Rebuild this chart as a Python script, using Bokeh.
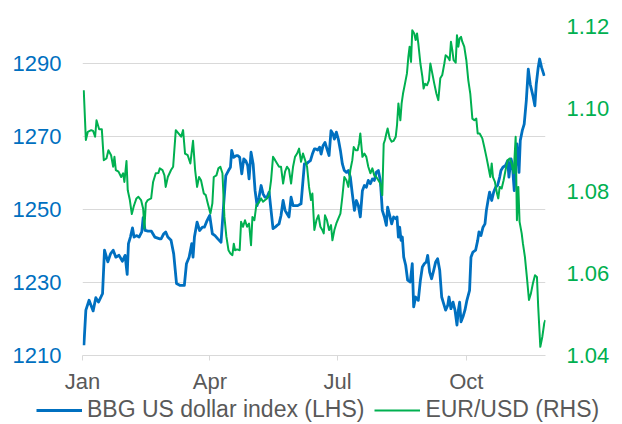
import pandas as pd
from bokeh.plotting import figure
from bokeh.layouts import column
from bokeh.models import (Range1d, LinearAxis, FixedTicker, PrintfTickFormatter,
                          Legend, LegendItem, ColumnDataSource, DatetimeTickFormatter)
from bokeh.embed import file_html
from bokeh.resources import INLINE

# ---------------- data ----------------
BASE = "2024-01-01"
month_ticks = ["2024-01-01", "2024-04-01", "2024-07-01", "2024-10-01"]
month_labels = ["Jan", "Apr", "Jul", "Oct"]
usd_ticks = [1210, 1230, 1250, 1270, 1290]
eur_ticks = [1.04, 1.06, 1.08, 1.10, 1.12]
series_names = ["BBG US dollar index (LHS)", "EUR/USD (RHS)"]

# BBG US dollar index (LHS): days since 1 Jan 2024, value
usd_day = [1.0, 2.4, 4.7, 7.6, 9.5, 11.4, 14.3, 15.7, 18.1, 20.0, 21.9, 23.8, 26.1, 28.5, 30.4,
           31.9, 32.8, 34.2, 35.7, 36.8, 38.5, 40.4, 42.3, 43.3, 44.7, 46.8, 49.2, 51.6, 55.2,
           56.1, 58.0, 59.4, 60.9, 63.2, 65.1, 67.1, 69.4, 71.3, 72.7, 74.2, 76.1, 78.0, 78.9,
           79.9, 81.8, 83.6, 85.6, 87.0, 88.9, 90.8, 92.7, 94.6, 96.6, 98.9, 100.8, 102.3, 104.2,
           105.6, 106.5, 107.9, 109.8,
           110.8, 112.2, 113.7, 115.1, 116.5, 117.9, 118.9, 120.3, 121.8, 123.2, 124.6, 126.0,
           127.5, 128.9, 130.3, 131.7, 133.2, 134.6, 136.0, 137.5, 138.9, 140.3, 141.7, 143.2,
           144.6, 146.0, 147.4, 148.9, 150.3, 151.7, 153.6, 156.0, 157.4, 158.4, 159.8, 161.2,
           162.7, 164.1, 165.5,
           166.5, 167.9, 169.3, 170.3, 171.7, 173.1, 174.5, 176.0, 177.4, 178.8, 179.8, 181.2,
           182.6, 184.1, 185.5, 186.9, 188.4, 189.8, 191.2, 192.6, 194.1, 195.5, 196.9, 198.3,
           199.8, 201.2, 202.6, 204.0, 205.5, 206.9, 208.3, 209.7, 211.2, 212.6, 214.0, 215.5,
           216.9, 217.8, 219.3, 220.7, 222.1,
           223.6, 224.5, 225.5, 226.4, 227.4, 228.3, 229.3, 230.7, 232.1, 234.0, 235.4, 236.4,
           237.8, 239.7, 241.2, 242.6, 244.0, 245.4, 246.4, 247.8, 249.2, 250.7, 252.1, 253.5,
           255.0, 256.4, 257.8, 259.2, 260.7, 261.6, 263.0, 264.5, 265.9, 267.3, 268.3, 269.2,
           270.2, 271.6, 273.0, 274.4,
           276.3, 277.3, 278.7, 280.6, 282.1, 283.0, 284.4, 285.9, 287.3, 288.3, 289.7, 290.6,
           292.1, 293.5, 294.9, 296.3, 297.8, 298.7, 300.1, 302.0, 303.5, 304.4, 305.9, 306.8,
           308.2, 309.2, 310.1, 311.6, 312.5, 313.9, 315.3, 316.8, 318.2, 319.6, 321.5, 322.9,
           323.9, 325.3, 326.3, 327.7, 329.6]
usd_val = [1212.8, 1222.4, 1225.1, 1222.2, 1225.8, 1224.6, 1226.9, 1238.8, 1235.6, 1237.8, 1238.8,
           1236.9, 1237.4, 1235.8, 1237.4, 1232.2, 1240.6, 1242.4, 1244.9, 1242.4, 1242.8, 1242.4,
           1243.8, 1247.7, 1244.2, 1244.0, 1244.0, 1242.4, 1241.9,
           1241.9, 1243.3, 1243.8, 1242.4, 1241.5, 1237.8, 1229.7, 1229.2, 1229.2, 1229.2, 1235.1,
           1236.9, 1240.6, 1236.9, 1242.4, 1246.5, 1244.2, 1245.1, 1245.1, 1246.9, 1248.3, 1243.3,
           1242.8, 1241.9, 1241.0, 1251.5, 1259.2, 1260.6, 1261.5, 1266.1, 1264.2, 1264.7,
           1264.7, 1264.2, 1259.7, 1263.8, 1263.3, 1262.0, 1258.3, 1265.6, 1262.4, 1255.1, 1251.0,
           1253.3, 1256.5, 1254.2, 1253.3, 1253.3, 1254.7, 1249.7, 1244.7, 1245.1, 1245.6, 1246.0,
           1248.3, 1252.4, 1249.7, 1248.8, 1247.9, 1253.3, 1251.0, 1251.0, 1251.0, 1251.5, 1257.9,
           1262.4, 1262.4, 1262.9, 1263.3, 1265.1, 1266.5,
           1266.5, 1266.2, 1267.0, 1265.1, 1267.4, 1268.3, 1266.5, 1264.7, 1271.5, 1270.6, 1269.2,
           1271.1, 1269.2, 1266.1, 1262.4, 1260.6, 1260.1, 1260.6, 1258.8, 1254.2, 1249.7, 1252.4,
           1251.0, 1247.9, 1255.1, 1256.5, 1256.0, 1257.9, 1257.0, 1258.3, 1257.9, 1260.1, 1260.6,
           1257.9, 1249.7, 1247.9, 1245.6, 1250.6, 1248.3, 1246.0, 1247.9,
           1247.4, 1247.9, 1242.4, 1245.1, 1241.5, 1242.4, 1236.9, 1234.7, 1230.6, 1230.1, 1235.1,
           1223.3, 1226.0, 1225.1, 1230.6, 1234.2, 1235.1, 1235.6, 1237.4, 1232.8, 1231.0, 1233.3,
           1235.6, 1236.5, 1233.3, 1226.0, 1224.2, 1222.4, 1223.7, 1226.0, 1222.8, 1224.6, 1222.4,
           1218.3, 1222.4, 1224.6, 1219.2, 1220.6, 1222.4, 1225.1,
           1227.8, 1236.9, 1238.3, 1238.8, 1241.5, 1243.8, 1242.8, 1245.1, 1246.0, 1249.7, 1252.9,
           1254.7, 1252.4, 1254.7, 1256.0, 1256.5, 1258.8, 1260.6, 1261.5, 1262.0, 1263.3, 1258.8,
           1263.8, 1262.4, 1255.1, 1262.0, 1267.9, 1260.1, 1268.8, 1271.5, 1273.3, 1279.7, 1288.3,
           1284.2, 1281.1, 1278.3, 1284.2, 1288.8, 1291.1, 1288.8, 1286.5]

# EUR/USD (RHS): days since 1 Jan 2024, value
eur_day = [0.9, 2.4, 3.8, 6.2, 7.6, 9.0, 10.0, 11.9, 13.8, 15.2, 17.1, 18.5, 20.4, 21.9, 22.8,
           23.8, 25.7, 27.6, 29.0, 29.9, 31.4, 32.3, 33.8, 35.2, 36.6, 38.5, 39.9, 41.8, 43.3,
           44.2, 45.2, 46.6, 49.0, 50.4, 52.3, 54.2, 55.2,
           57.1, 58.5, 59.4, 60.9, 63.2, 64.7, 66.6, 68.5, 70.4, 71.8, 73.2, 75.1, 77.0, 78.9,
           80.4, 81.8, 83.2, 84.6, 86.6, 88.0, 89.4, 91.3, 92.7, 93.7, 95.6, 97.0, 98.4, 99.9,
           101.3, 102.7, 104.2, 105.6, 107.0, 108.0, 108.9, 110.3,
           112.2, 113.2, 114.6, 116.0, 117.5, 118.9, 120.3, 121.3, 122.7, 124.1, 125.6, 127.5,
           128.9, 130.3, 131.7, 133.2, 134.6, 136.0, 137.5, 138.9, 140.3, 141.7, 143.2, 144.6,
           146.0, 147.4, 148.9, 150.3, 151.7, 153.2, 154.6, 156.0, 157.4, 158.9, 160.3, 161.7,
           163.1, 164.1, 165.5,
           167.0, 168.4, 169.8, 171.2, 172.2, 173.1, 174.5, 176.0, 177.4, 178.4, 179.8, 181.2,
           182.6, 184.1, 185.5, 186.9, 188.4, 189.8, 191.2, 192.6, 193.6, 195.0, 196.4, 197.4,
           198.3, 199.8, 201.2, 202.6, 204.0, 205.5, 206.9, 208.3, 209.7, 211.2, 212.6, 214.0,
           215.0, 215.9, 216.9, 217.8, 219.3, 220.7, 222.1,
           223.6, 224.5, 225.5, 226.9, 227.8, 228.8, 230.2, 231.6, 232.6, 233.5, 234.5, 235.4,
           236.8, 237.8, 238.8, 239.7, 241.2, 242.6, 243.5, 244.5, 245.9, 247.3, 248.3, 249.7,
           251.1, 252.6, 254.0, 255.4, 256.8, 258.3, 259.2, 260.7, 262.1, 263.0, 264.0, 264.9,
           266.4, 267.3, 268.3, 269.2, 270.2, 271.1, 272.5, 274.0, 275.4, 276.8,
           278.3, 279.7, 281.1, 282.1, 283.5, 285.4, 286.8, 288.3, 289.7, 291.1, 292.1, 293.0,
           294.4, 295.9, 296.8, 297.8, 299.2, 300.6, 302.0, 303.5, 304.9, 306.3, 307.8, 309.2,
           310.1, 311.1, 312.0, 313.5, 314.4, 315.8, 317.2, 318.7, 320.1, 321.5, 323.0, 324.4,
           325.3, 326.8, 328.2, 329.6, 330.4]
eur_val = [1.1045, 1.0924, 1.0944, 1.0948, 1.0946, 1.0932, 1.0972, 1.0950, 1.0950, 1.0875, 1.0879,
           1.0899, 1.0887, 1.0859, 1.0883, 1.0851, 1.0847, 1.0834, 1.0843, 1.0822, 1.0873, 1.0802,
           1.0778, 1.0744, 1.0763, 1.0782, 1.0786, 1.0778, 1.0757, 1.0709, 1.0770, 1.0778, 1.0782,
           1.0822, 1.0843, 1.0844, 1.0855,
           1.0851, 1.0838, 1.0810, 1.0834, 1.0851, 1.0859, 1.0948, 1.0940, 1.0932, 1.0948, 1.0891,
           1.0887, 1.0867, 1.0922, 1.0851, 1.0810, 1.0834, 1.0826, 1.0794, 1.0790, 1.0770, 1.0745,
           1.0770, 1.0834, 1.0838, 1.0855, 1.0859, 1.0843, 1.0737, 1.0689, 1.0656, 1.0648, 1.0644,
           1.0672, 1.0656, 1.0658,
           1.0656, 1.0725, 1.0713, 1.0729, 1.0713, 1.0721, 1.0668, 1.0737, 1.0729, 1.0766, 1.0770,
           1.0782, 1.0774, 1.0778, 1.0782, 1.0790, 1.0826, 1.0883, 1.0875, 1.0867, 1.0859, 1.0859,
           1.0818, 1.0847, 1.0859, 1.0852, 1.0818, 1.0859, 1.0883, 1.0891, 1.0903, 1.0871, 1.0891,
           1.0875, 1.0859, 1.0810, 1.0778, 1.0794, 1.0705,
           1.0729, 1.0741, 1.0713, 1.0705, 1.0697, 1.0741, 1.0729, 1.0705, 1.0717, 1.0680, 1.0705,
           1.0721, 1.0733, 1.0745, 1.0786, 1.0834, 1.0826, 1.0810, 1.0851, 1.0875, 1.0907, 1.0899,
           1.0899, 1.0915, 1.0940, 1.0883, 1.0891, 1.0883, 1.0859, 1.0843, 1.0855, 1.0838, 1.0834,
           1.0826, 1.0818, 1.0790, 1.0915, 1.0924, 1.0940, 1.0952, 1.0928, 1.0920, 1.0922,
           1.0932, 1.0960, 1.1013, 1.0972, 1.1013, 1.1037, 1.1061, 1.1086, 1.1126, 1.1151, 1.1114,
           1.1191, 1.1183, 1.1167, 1.1183, 1.1159, 1.1110, 1.1078, 1.1049, 1.1061, 1.1057, 1.1069,
           1.1110, 1.1086, 1.1061, 1.1037, 1.1021, 1.1074, 1.1082, 1.1110, 1.1130, 1.1126, 1.1118,
           1.1163, 1.1142, 1.1118, 1.1112, 1.1179, 1.1151, 1.1171, 1.1175, 1.1163, 1.1151, 1.1118,
           1.1069, 1.1037,
           1.0976, 1.0972, 1.0976, 1.0940, 1.0940, 1.0928, 1.0907, 1.0883, 1.0859, 1.0834, 1.0867,
           1.0834, 1.0822, 1.0794, 1.0782, 1.0810, 1.0806, 1.0826, 1.0851, 1.0875, 1.0879, 1.0867,
           1.0843, 1.0932, 1.0729, 1.0810, 1.0725, 1.0697, 1.0672, 1.0640, 1.0591, 1.0535, 1.0551,
           1.0575, 1.0595, 1.0591, 1.0518, 1.0421, 1.0445, 1.0478, 1.0486]

# ---------------- styling ----------------
BLUE = "#0070C0"
GREEN = "#00B050"
GREY = "#595959"
GRID = "#D9D9D9"
FONT = "Liberation Sans"
USD_W = 2.8
EUR_W = 2

base = pd.Timestamp(BASE)
usd_x = base + pd.to_timedelta(usd_day, unit="D")
eur_x = base + pd.to_timedelta(eur_day, unit="D")

# ---------------- main chart ----------------
p = figure(width=614, height=396, output_backend="svg", toolbar_location=None,
           x_axis_type="datetime",
           x_range=Range1d(base, pd.Timestamp("2024-11-26 12:00")),
           y_range=Range1d(1210, 1300),
           min_border_left=82, min_border_right=69, min_border_top=26, min_border_bottom=40)
p.outline_line_color = None
p.background_fill_color = "white"
p.border_fill_color = "white"
p.frame_align = False

p.extra_y_ranges = {"eur": Range1d(1.04, 1.12)}

tick_ms = [pd.Timestamp(t).value // 10**6 for t in month_ticks]
xa = p.xaxis[0]
xa.ticker = FixedTicker(ticks=tick_ms)
xa.formatter = DatetimeTickFormatter(days="%b", months="%b", years="%b")
xa.major_label_overrides = {t: lab for t, lab in zip(tick_ms, month_labels)}
xa.axis_line_color = GRID
xa.major_tick_line_color = GRID
xa.major_tick_out = 5
xa.major_tick_in = 0
xa.minor_tick_line_color = None
xa.major_label_standoff = 8
xa.major_label_text_font = FONT
xa.major_label_text_font_size = "22px"
xa.major_label_text_color = GREY

ya = p.yaxis[0]
ya.ticker = FixedTicker(ticks=usd_ticks)
ya.axis_line_color = None
ya.major_tick_line_color = None
ya.minor_tick_line_color = None
ya.major_tick_out = 0
ya.major_tick_in = 0
ya.major_label_standoff = 21
ya.major_label_text_font = FONT
ya.major_label_text_font_size = "22px"
ya.major_label_text_color = BLUE

ra = LinearAxis(y_range_name="eur", ticker=FixedTicker(ticks=eur_ticks),
                formatter=PrintfTickFormatter(format="%.2f"))
ra.axis_line_color = None
ra.major_tick_line_color = None
ra.minor_tick_line_color = None
ra.major_tick_out = 0
ra.major_tick_in = 0
ra.major_label_standoff = 21
ra.major_label_text_font = FONT
ra.major_label_text_font_size = "22px"
ra.major_label_text_color = GREEN
p.add_layout(ra, "right")

p.xgrid.grid_line_color = None
p.ygrid.ticker = FixedTicker(ticks=usd_ticks)
p.ygrid.grid_line_color = GRID
p.ygrid.grid_line_width = 1

src_usd = ColumnDataSource(dict(x=usd_x, y=usd_val))
src_eur = ColumnDataSource(dict(x=eur_x, y=eur_val))

p.line("x", "y", source=src_usd, line_color=BLUE, line_width=USD_W, line_join="round")
p.line("x", "y", source=src_eur, line_color=GREEN, line_width=EUR_W, line_join="round",
       y_range_name="eur")

# ---------------- legend strip (separate small figure) ----------------
lg = figure(width=614, height=27, output_backend="svg", toolbar_location=None,
            x_range=Range1d(0, 1), y_range=Range1d(0, 1),
            x_axis_location=None, y_axis_location=None,
            min_border_left=0, min_border_right=0, min_border_top=0, min_border_bottom=0)
lg.outline_line_color = None
lg.grid.visible = False
lg.background_fill_color = "white"
lg.border_fill_color = "white"
lg.frame_align = False
# the series are drawn here too (far outside this strip's view) only so the legend has samples
k_usd = lg.line(x=usd_day, y=usd_val, line_color=BLUE, line_width=USD_W)
k_eur = lg.line(x=eur_day, y=eur_val, line_color=GREEN, line_width=EUR_W)

legend = Legend(items=[LegendItem(label=series_names[0], renderers=[k_usd]),
                       LegendItem(label=series_names[1], renderers=[k_eur])],
                orientation="horizontal", location=(36, 0),
                glyph_width=46, glyph_height=20, label_standoff=5, spacing=10,
                padding=0, margin=0, background_fill_alpha=0, border_line_color=None,
                label_text_font=FONT, label_text_font_size="23px", label_text_color=GREY,
                label_height=20)
lg.add_layout(legend, "center")

layout = column(p, lg)
open("out.html", "w").write(file_html(layout, INLINE))
